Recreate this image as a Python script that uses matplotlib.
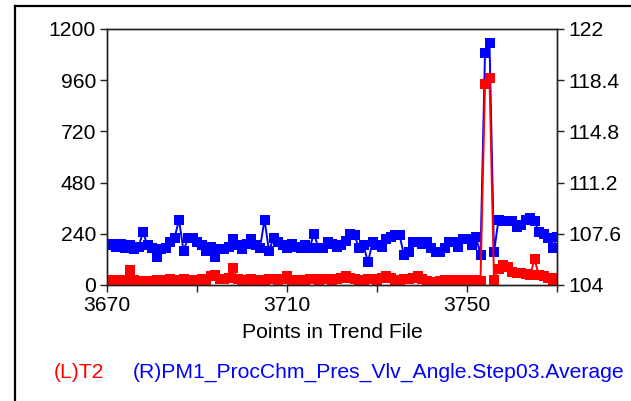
import matplotlib
matplotlib.use("Agg")
import matplotlib.pyplot as plt
from matplotlib.lines import Line2D
import numpy as np

x_start, x_end = 3670, 3770
points = list(range(x_start, x_end + 1))

t2 = [20, 25, 18, 22, 25, 70, 25, 20, 15, 18,
      20, 22, 20, 25, 28, 22, 25, 28, 20, 22,
      25, 30, 25, 40, 45, 30, 28, 35, 80, 30,
      25, 20, 28, 25, 22, 25, 30, 28, 25, 30,
      40, 25, 20, 25, 22, 28, 30, 25, 30, 28,
      25, 30, 35, 40, 35, 28, 25, 22, 28, 30,
      25, 35, 40, 35, 25, 20, 28, 30, 35, 40,
      30, 20, 10, 15, 20, 22, 25, 20, 25, 22,
      25, 20, 22, 20, 940, 970, 25, 75, 95, 85,
      60, 55, 55, 50, 45, 120, 45, 40, 35, 25,
      35]

angle = [106.8, 106.9, 106.7, 106.9, 106.6, 106.8, 106.5, 106.7, 107.7, 106.8,
         106.6, 106.0, 106.5, 106.6, 107.0, 107.3, 108.6, 106.4, 107.3, 107.3,
         107.0, 106.8, 106.4, 106.7, 106.0, 106.5, 106.5, 106.7, 107.2, 106.8,
         106.5, 106.9, 107.2, 106.8, 106.6, 108.6, 106.4, 107.3, 107.0, 106.8,
         106.6, 106.9, 106.7, 106.6, 106.8, 106.6, 107.6, 106.6, 106.6, 107.0,
         106.9, 106.7, 106.8, 107.1, 107.6, 107.5, 106.6, 106.8, 105.6, 107.0,
         106.8, 106.7, 107.2, 107.4, 107.5, 107.5, 106.1, 106.3, 107.0, 107.0,
         106.9, 107.0, 106.6, 106.3, 106.3, 106.6, 107.0, 107.0, 106.7, 107.2,
         107.2, 106.8, 107.4, 106.1, 120.3, 121.0, 106.3, 108.6, 108.5, 108.5,
         108.5, 108.1, 108.2, 108.6, 108.7, 108.5, 107.7, 107.6, 107.3, 106.6,
         107.4]

left_ticks = [0, 240, 480, 720, 960, 1200]
right_ticks = [104, 107.6, 111.2, 114.8, 118.4, 122]
x_ticks = [3670, 3710, 3750]

W, H = 631, 401
fig = plt.figure(figsize=(W / 100, H / 100), dpi=100)
fig.patch.set_facecolor("white")

font = "Liberation Sans"
fs = 15.2

ax = fig.add_axes([107 / W, 1 - 285 / H, (557 - 107) / W, (285 - 29) / H])
ax2 = ax.twinx()

ax2.plot(points, angle, color="#0000ff", lw=1.4, marker="s", ms=7,
         markeredgewidth=0, solid_joinstyle="miter")
ax.plot(points, t2, color="#ff0000", lw=1.4, marker="s", ms=7,
        markeredgewidth=0, solid_joinstyle="miter")

ax.set_zorder(ax2.get_zorder() + 1)
ax.patch.set_visible(False)

ax.set_xlim(x_start, x_end)
ax.set_ylim(0, 1200)
ax2.set_ylim(104, 122)
ax.set_yticks(left_ticks)
ax.set_yticklabels([str(v) for v in left_ticks])
ax2.set_yticks(right_ticks)
ax2.set_yticklabels([f"{v:g}" for v in right_ticks])
ax.set_xticks(x_ticks)
ax.set_xticks([3690, 3730, 3770], minor=True)
ax.set_xticklabels([str(v) for v in x_ticks])

for a in (ax, ax2):
    for s in a.spines.values():
        s.set_linewidth(1.0)
        s.set_color("#202020")
    a.tick_params(axis="both", which="both", direction="out", length=5,
                  width=1, colors="#202020", labelsize=fs, pad=3)
    for lab in a.get_xticklabels() + a.get_yticklabels():
        lab.set_fontfamily(font)
        lab.set_color("black")

ax.set_xlabel("Points in Trend File", fontsize=fs, fontfamily=font, labelpad=6)

fig.text(54 / W, 1 - 372 / H, "(L)T2", color="#ff0000", fontsize=fs,
         fontfamily=font, ha="left", va="center")
fig.text(133 / W, 1 - 372 / H, "(R)PM1_ProcChm_Pres_Vlv_Angle.Step03.Average",
         color="#0000ff", fontsize=fs, fontfamily=font, ha="left", va="center")

# outer frame (left and top edges visible)
fig.add_artist(Line2D([15 / W, 15 / W], [0, 1 - 6 / H], transform=fig.transFigure,
                      color="black", lw=1.6))
fig.add_artist(Line2D([15 / W, 1], [1 - 6 / H, 1 - 6 / H], transform=fig.transFigure,
                      color="black", lw=1.6))

fig.savefig("out.png", dpi=100, facecolor="white")
